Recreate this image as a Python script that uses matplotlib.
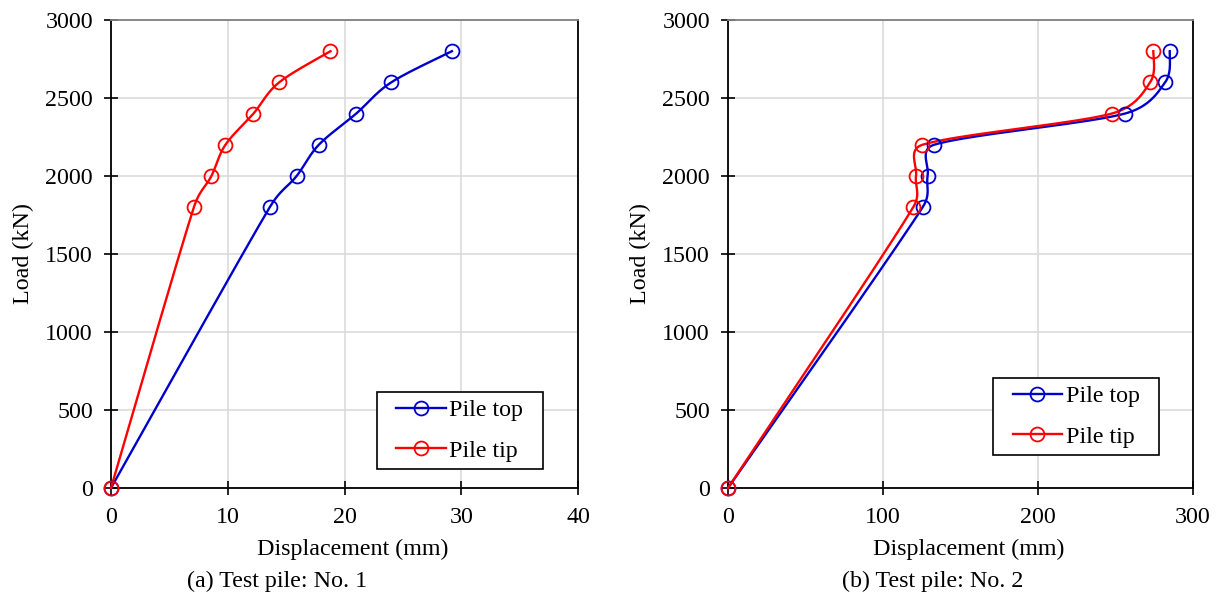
import numpy as np
import matplotlib
matplotlib.use('Agg')
from matplotlib import pyplot as plt
from matplotlib.patches import Rectangle
from matplotlib.transforms import IdentityTransform

### Data
load = [0, 1800, 2000, 2200, 2400, 2600, 2800]

# Test pile No. 1
disp1_top = [0, 13.6, 15.9, 17.8, 21.0, 24.0, 29.2]
disp1_tip = [0, 7.1, 8.6, 9.8, 12.2, 14.4, 18.8]

# Test pile No. 2
disp2_top = [0, 125.6, 128.8, 132.9, 256.0, 282.0, 285.0]
disp2_tip = [0, 119.5, 121.3, 125.4, 247.5, 272.3, 274.4]

captions = ['(a) Test pile: No. 1', '(b) Test pile: No. 2']

### Style
fs = 17.3
plt.rcParams['font.family'] = ['Liberation Serif', 'DejaVu Serif']
plt.rcParams['font.size'] = fs

W, H = 1219, 599
blue = '#0000cc'
red = '#ff0000'


# Excel-like smoothed line: Bezier segments, tangents capped at half the segment
# length, computed in screen space
def smooth(ax, x, y, n=40):
	pts = ax.transData.transform(np.column_stack([x, y]).astype(float))
	out = [pts[0]]
	t = np.linspace(0, 1, n)[1:, None]
	for i in range(len(pts) - 1):
		p0 = pts[i - 1] if i > 0 else pts[i]
		p1 = pts[i]
		p2 = pts[i + 1]
		p3 = pts[i + 2] if i + 2 < len(pts) else pts[i + 1]
		half = np.hypot(*(p2 - p1)) / 2
		v1 = (p2 - p0) / 6
		v2 = (p3 - p1) / 6
		if np.hypot(*v1) > half:
			v1 = v1 * half / np.hypot(*v1)
		if np.hypot(*v2) > half:
			v2 = v2 * half / np.hypot(*v2)
		c1 = p1 + v1
		c2 = p2 - v2
		seg = (1 - t)**3 * p1 + 3 * (1 - t)**2 * t * c1 + 3 * (1 - t) * t**2 * c2 + t**3 * p2
		out.extend(seg)
	out = ax.transData.inverted().transform(np.array(out))
	return out[:, 0], out[:, 1]


fig = plt.figure(figsize=(W / 100, H / 100), dpi=100)
ax1 = fig.add_axes([111 / W, 1 - 488 / H, (578 - 111) / W, (488 - 20) / H])
ax2 = fig.add_axes([728 / W, 1 - 488 / H, (1193 - 728) / W, (488 - 20) / H])

setups = [
	(ax1, disp1_top, disp1_tip, 40, 10, (0.5955, 0.041), 277, captions[0]),
	(ax2, disp2_top, disp2_tip, 300, 100, (0.597, 0.0705), 933, captions[1]),
]

legends = []
for ax, top, tip, xmax, xstep, leg_pos, cap_x, cap in setups:
	ax.set_xlim(0, xmax)
	ax.set_ylim(0, 3000)
	ax.set_xticks(np.arange(0, xmax + 1, xstep))
	ax.set_yticks(np.arange(0, 3001, 500))

	ax.grid(color='#d9d9d9', linewidth=1.1, zorder=0)
	ax.set_axisbelow(True)

	for d, clr, lbl in [(top, blue, 'Pile top'), (tip, red, 'Pile tip')]:
		sx, sy = smooth(ax, d, load)
		ax.plot(sx, sy, color=clr, linewidth=1.7, zorder=3, clip_on=False)
		ax.plot(d, load, linestyle='', marker='o', markersize=10, markerfacecolor='none',
			markeredgecolor=clr, markeredgewidth=1.3, zorder=4, clip_on=False)
		ax.plot([], [], color=clr, linewidth=1.7, marker='o', markersize=10,
			markerfacecolor='none', markeredgecolor=clr, markeredgewidth=1.3, label=lbl)

	ax.tick_params(direction='inout', length=10, width=1.2, pad=9, labelsize=fs)
	ax.tick_params(axis='y', pad=8)

	for s in ['left', 'bottom', 'right']:
		ax.spines[s].set_color('black')
		ax.spines[s].set_linewidth(1.3)
	ax.spines['top'].set_color('#808080')
	ax.spines['top'].set_linewidth(1.3)

	ax.set_xlabel('Displacement (mm)', fontsize=fs)
	ax.xaxis.set_label_coords(0.518, -0.131)
	ax.xaxis.label.set_verticalalignment('center')
	ax.set_ylabel('Load (kN)', fontsize=fs)
	ax.yaxis.set_label_coords(-0.188, 0.5)
	ax.yaxis.label.set_verticalalignment('center')

	leg = ax.legend(loc='lower left', bbox_to_anchor=leg_pos, borderaxespad=0, fontsize=fs,
		frameon=False, handlelength=2.05, handletextpad=0.15, borderpad=0.3,
		labelspacing=0.78)
	leg.set_zorder(6)
	legends.append((ax, leg))

	fig.text(cap_x / W, 1 - 581 / H, cap, ha='center', va='center', fontsize=fs)

# Legend frames: wider side padding than the legend allows
fig.canvas.draw()
for ax, leg in legends:
	bb = leg.get_window_extent()
	ex = 12.5
	frame = Rectangle((bb.x0 - ex, bb.y0), bb.width + 2 * ex, bb.height,
		facecolor='white', edgecolor='black', linewidth=1.2, zorder=5, clip_on=False)
	ax.add_artist(frame)
	frame.set_transform(IdentityTransform())

plt.savefig('out.png', dpi=100)
